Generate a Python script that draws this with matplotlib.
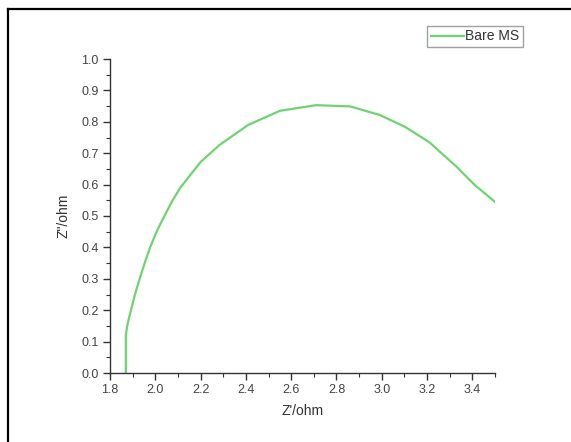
import matplotlib
matplotlib.use("Agg")
import matplotlib.pyplot as plt
from matplotlib.lines import Line2D
from matplotlib.ticker import MultipleLocator, FormatStrFormatter

plt.rcParams['font.family'] = ['Liberation Sans', 'DejaVu Sans']

z_real = [1.870, 1.870, 1.876, 1.884, 1.896, 1.912, 1.933, 1.954, 1.977, 2.007,
          2.040, 2.075, 2.110, 2.200, 2.285, 2.410, 2.550, 2.710, 2.860, 2.990,
          3.100, 3.210, 3.330, 3.410, 3.500]
z_imag = [0.000, 0.120, 0.150, 0.175, 0.210, 0.255, 0.305, 0.352, 0.400, 0.452,
          0.500, 0.548, 0.590, 0.672, 0.727, 0.790, 0.835, 0.853, 0.849, 0.822,
          0.785, 0.735, 0.657, 0.599, 0.545]
series_label = "Bare MS"
x_label = "Z'/ohm"
y_label = 'Z"/ohm'

fig = plt.figure(figsize=(5.71, 4.42), dpi=100)
ax = fig.add_axes([110 / 571, 1 - 373 / 442, (495 - 110) / 571, (373 - 59) / 442])

ax.plot(z_real, z_imag, color='#6fd46f', lw=1.6, label=series_label)

ax.set_xlim(1.8, 3.5)
ax.set_ylim(0.0, 1.0)
ax.xaxis.set_major_locator(MultipleLocator(0.2))
ax.xaxis.set_minor_locator(MultipleLocator(0.1))
ax.yaxis.set_major_locator(MultipleLocator(0.1))
ax.yaxis.set_minor_locator(MultipleLocator(0.05))
ax.xaxis.set_major_formatter(FormatStrFormatter('%.1f'))
ax.yaxis.set_major_formatter(FormatStrFormatter('%.1f'))

for s in ['top', 'right']:
    ax.spines[s].set_visible(False)
for s in ['left', 'bottom']:
    ax.spines[s].set_color('#333333')
    ax.spines[s].set_linewidth(1.0)

ax.tick_params(which='major', direction='out', length=5, width=1.0, color='#333333',
               labelsize=9, labelcolor='#444444', pad=3)
ax.tick_params(which='minor', direction='out', length=3, width=0.8, color='#333333')

ax.set_xlabel(x_label, fontsize=10, color='#333333', labelpad=6)
ax.set_ylabel(y_label, fontsize=10, color='#333333', labelpad=8)

leg = ax.legend(loc='upper right', fontsize=10, frameon=True,
                fancybox=False, handlelength=2.4, handletextpad=0.1,
                borderpad=0.25, borderaxespad=0)
leg.get_frame().set_edgecolor('#888888')
leg.get_frame().set_linewidth(1.0)
for t in leg.get_texts():
    t.set_color('#333333')
leg.set_bbox_to_anchor((523 / 571, 1 - 26 / 442), transform=fig.transFigure)

# outer frame (left and top)
fig.add_artist(Line2D([8 / 571, 8 / 571], [0, 1 - 9 / 442], color='black', lw=1.6,
                      transform=fig.transFigure))
fig.add_artist(Line2D([8 / 571, 1], [1 - 9 / 442, 1 - 9 / 442], color='black', lw=1.6,
                      transform=fig.transFigure))

fig.savefig('out.png', dpi=100)
